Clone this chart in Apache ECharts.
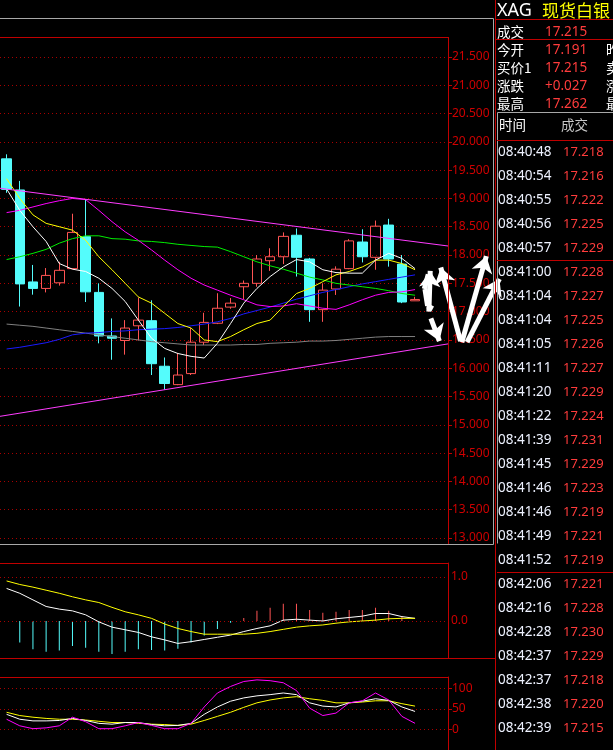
<!DOCTYPE html>
<html><head><meta charset="utf-8">
<script src="https://cdn.jsdelivr.net/npm/echarts@6/dist/echarts.min.js"></script>
<style>html,body{margin:0;padding:0;background:#000;overflow:hidden;}#c{width:613px;height:750px;}</style>
</head><body><div id="c"></div>
<script>
// ---------- data ----------
const categories = Array.from({length: 34}, (_, i) => 'K' + (i + 1));
// [open, close, low, high]
const candles = [
  [19.70, 19.16, 19.10, 19.78],
  [19.15, 17.49, 17.09, 19.31],
  [17.525, 17.41, 17.30, 17.825],
  [17.41, 17.64, 17.34, 17.77],
  [17.51, 17.73, 17.46, 17.88],
  [17.76, 18.40, 17.75, 18.73],
  [18.325, 17.35, 17.17, 18.99],
  [17.34, 16.57, 16.44, 17.50],
  [16.57, 16.53, 16.15, 16.88],
  [16.49, 16.71, 16.24, 16.85],
  [16.75, 16.85, 16.49, 17.25],
  [16.84, 16.08, 15.88, 17.20],
  [16.035, 15.73, 15.62, 16.19],
  [15.71, 15.88, 15.70, 16.27],
  [15.905, 16.46, 15.88, 16.71],
  [16.46, 16.81, 16.41, 16.98],
  [16.795, 17.06, 16.78, 17.325],
  [17.08, 17.15, 17.05, 17.24],
  [17.44, 17.50, 17.22, 17.55],
  [17.50, 17.93, 17.44, 18.00],
  [17.90, 17.97, 17.72, 18.12],
  [17.97, 18.33, 17.84, 18.40],
  [18.35, 17.96, 17.62, 18.47],
  [17.93, 17.035, 16.82, 17.95],
  [17.035, 17.38, 16.82, 17.50],
  [17.40, 17.75, 17.295, 17.80],
  [17.76, 18.25, 17.75, 18.28],
  [18.23, 17.97, 17.87, 18.455],
  [17.96, 18.51, 17.74, 18.61],
  [18.53, 17.93, 17.795, 18.64],
  [17.84, 17.17, 17.15, 18.00],
  [17.191, 17.215, 17.19, 17.262]
];
const ma5 = [19.17,18.79,18.50,18.24,17.85,17.75,17.71,17.59,17.41,17.18,16.85,16.53,16.35,16.26,16.21,16.18,16.44,16.79,17.15,17.41,17.62,17.79,17.92,17.88,17.74,17.69,17.68,17.68,17.91,18.03,17.94,17.76];
const ma10 = [19.35,19.00,18.71,18.56,18.50,18.44,18.26,17.97,17.74,17.50,17.26,17.15,16.97,16.79,16.71,16.50,16.47,16.56,16.68,16.79,16.85,17.09,17.32,17.41,17.53,17.65,17.71,17.79,17.91,17.91,17.85,17.74];
const ma20 = [18.75,18.79,18.85,18.91,18.96,19.00,18.98,18.79,18.59,18.41,18.26,18.09,17.91,17.74,17.59,17.47,17.38,17.29,17.21,17.12,17.09,17.10,17.14,17.10,17.06,17.04,17.12,17.21,17.29,17.34,17.35,17.39];
const ma30 = [17.92,17.97,18.03,18.10,18.21,18.29,18.34,18.34,18.29,18.28,18.25,18.24,18.22,18.19,18.17,18.15,18.14,18.06,17.97,17.88,17.81,17.75,17.68,17.61,17.56,17.50,17.47,17.44,17.41,17.37,17.32,17.29];
const ma60 = [16.34,16.37,16.41,16.45,16.51,16.59,16.62,16.63,16.65,16.66,16.68,16.69,16.70,16.72,16.75,16.78,16.82,16.88,16.96,17.02,17.08,17.15,17.22,17.28,17.34,17.39,17.44,17.49,17.53,17.57,17.61,17.65];
const ma120 = [16.78,16.76,16.74,16.71,16.68,16.65,16.62,16.59,16.56,16.53,16.50,16.47,16.45,16.43,16.41,16.41,16.41,16.41,16.42,16.42,16.44,16.45,16.46,16.48,16.48,16.49,16.51,16.53,16.55,16.56,16.56,16.56];
const trendUpper = [[-0.5, 19.18], [33.5, 18.16]];
const trendLower = [[-0.5, 15.15], [33.5, 16.43]];
// hand-drawn annotations, in (bar index, price): arrows and plain strokes
const arrowStrokes = [
  [[32.05, 17.00], [32.15, 17.72]],
  [[32.20, 16.88], [32.85, 16.48]],
  [[34.45, 16.48], [32.95, 17.78]],
  [[34.55, 16.46], [36.41, 17.98]],
  [[34.95, 16.46], [37.40, 17.58]]
];
const plainStrokes = [
  [[31.70, 17.40], [32.00, 17.66]],
  [[31.75, 17.40], [31.95, 17.10]],
  [[31.95, 17.10], [32.35, 17.05]]
];
const macdHist = [null,-0.49,-0.64,-0.70,-0.67,-0.57,-0.61,-0.70,-0.75,-0.70,-0.64,-0.66,-0.67,-0.63,-0.49,-0.33,-0.18,-0.04,0.07,0.23,0.30,0.39,0.39,0.25,0.19,0.21,0.25,0.25,0.30,0.23,0.11,null];
const dif = [0.74,0.63,0.48,0.33,0.27,0.23,0.14,-0.02,-0.14,-0.20,-0.26,-0.36,-0.43,-0.51,-0.47,-0.42,-0.37,-0.32,-0.24,-0.17,-0.11,0.02,0.04,0.02,0.00,0.05,0.08,0.11,0.17,0.17,0.10,0.06];
const dea = [0.91,0.83,0.77,0.70,0.63,0.55,0.48,0.42,0.31,0.21,0.14,0.06,-0.07,-0.17,-0.24,-0.30,-0.30,-0.30,-0.30,-0.28,-0.24,-0.19,-0.14,-0.11,-0.09,-0.05,-0.02,0.00,0.02,0.05,0.06,0.06];
const kdjK = [37,25,21,21,22,27,22,15,13,17,17,12,9,10,15,37,55,69,77,82,85,89,85,65,57,55,65,69,75,71,55,44];
const kdjD = [42,34,30,27,25,25,23,20,17,17,15,13,12,10,13,22,32,42,54,65,72,77,80,75,71,65,65,67,70,70,63,57];
const kdjJ = [25,9,2,4,9,30,19,2,2,9,17,10,2,2,15,55,89,105,117,121,119,114,95,52,34,40,65,70,89,72,32,15];
const macdMarks = [0, 1];
const headerCode = 'XAG';
const headerName = '现货白银';
const quoteLabels = ['成交', '今开', '买价1', '涨跌', '最高'];
const quoteValues = ['17.215', '17.191', '17.215', '+0.027', '17.262'];
const quoteLabels2 = ['昨收', '卖价1', '涨幅', '最低'];
const tickTimes = ['08:40:48','08:40:54','08:40:55','08:40:56','08:40:57','08:41:00','08:41:04','08:41:04','08:41:05','08:41:11','08:41:20','08:41:22','08:41:39','08:41:45','08:41:46','08:41:46','08:41:49','08:41:52','08:42:06','08:42:16','08:42:28','08:42:37','08:42:37','08:42:38','08:42:39'];
const tickPrices = ['17.218','17.216','17.222','17.225','17.229','17.228','17.227','17.225','17.226','17.227','17.229','17.224','17.231','17.229','17.223','17.219','17.221','17.219','17.221','17.228','17.230','17.229','17.218','17.220','17.215'];

// ---------- style ----------
const UP = '#ff5454', DOWN = '#54fcfc';
const RED = '#c00000', DOT = '#a80000', LBL = '#d00000';
const FONT = "'Noto Sans', 'Noto Sans CJK SC', sans-serif";
const CJK = "'Noto Sans CJK SC', 'Noto Sans', sans-serif";

const pad = a => a.concat(['-', '-']);
const lineS = (data, color, xi, yi, extra) => Object.assign({
  type: 'line', data: pad(data.map(v => v == null ? '-' : v)), xAxisIndex: xi, yAxisIndex: yi,
  symbol: 'none', lineStyle: {color: color, width: 1}, itemStyle: {color: color}, z: 3, silent: true
}, extra || {});

// graphic elements (frames + quote panel)
const g = [];
const hline = (x1, x2, y, c, w) => g.push({type: 'line', shape: {x1: x1, y1: y, x2: x2, y2: y}, style: {stroke: c, lineWidth: w || 1}, z: 50});
const vline = (x, y1, y2, c, w) => g.push({type: 'line', shape: {x1: x, y1: y1, x2: x, y2: y2}, style: {stroke: c, lineWidth: w || 1}, z: 50});
const text = (t, x, y, c, size, fam) => g.push({type: 'text', x: x, y: y, style: {text: t, fill: c, font: size + 'px ' + (fam || FONT), verticalAlign: 'middle', textAlign: 'left'}, z: 60});

// main frame (gray) and panel borders (red)
hline(0, 493.5, 18.5, '#a8a8a8');
vline(493.5, 18.5, 544.5, '#a8a8a8');
hline(0, 493.5, 544.5, '#a8a8a8');
hline(0, 448, 37.5, RED);
vline(448.5, 37, 544, RED);
hline(0, 448, 563.5, RED);
hline(0, 496, 658.5, RED);
hline(0, 448, 677.5, RED);
vline(495.5, 0, 750, RED);
// quote panel
hline(496, 613, 19.5, RED);
hline(496, 613, 39.5, RED);
text(headerCode, 497, 11, '#ffffff', 18);
text(headerName, 542, 11, '#ffff00', 17, CJK);
quoteLabels.forEach((t, i) => {
  const y = 32 + 18 * i;
  text(t, 497, y, '#ffffff', 13.5, CJK);
  text(quoteValues[i], 545, y, '#ff3c3c', 13.5);
  if (i > 0) text(quoteLabels2[i - 1], 606, y, '#ffffff', 13.5, CJK);
});
// tick list
hline(497.5, 613, 112.5, '#a8a8a8');
vline(497.5, 112.5, 543.5, '#a8a8a8');
text('时间', 499, 125, '#ffffff', 13.5, CJK);
text('成交', 561, 125, '#c8c8c8', 13.5, CJK);
hline(497, 613, 140.5, RED);
tickTimes.forEach((t, k) => {
  const y = 152 + 24 * k;
  text(t, 498, y, '#eef2ff', 13.5);
  text(tickPrices[k], 563, y, '#ff3c3c', 13);
  if (k > 0 && t.slice(0, 5) !== tickTimes[k - 1].slice(0, 5)) hline(497, 613, y - 11.5, RED);
});

const option = {
  backgroundColor: '#000000',
  animation: false,
  grid: [
    {left: -8, top: 37, width: 456, height: 501},
    {left: -8, top: 563, width: 456, height: 95},
    {left: -8, top: 677, width: 456, height: 89}
  ],
  xAxis: [
    {type: 'category', gridIndex: 0, data: categories, show: false},
    {type: 'value', gridIndex: 0, min: -0.5, max: 33.5, show: false},
    {type: 'category', gridIndex: 1, data: categories, show: false},
    {type: 'category', gridIndex: 2, data: categories, show: false}
  ],
  yAxis: [
    {type: 'value', gridIndex: 0, position: 'right', min: 13, max: 21.853, interval: 0.5,
     axisLine: {show: false, onZero: false},
     axisTick: {show: true, length: 4, lineStyle: {color: RED}},
     axisLabel: {color: LBL, fontSize: 12, fontFamily: FONT, margin: 4, showMaxLabel: false,
                 formatter: v => v.toFixed(3)},
     splitLine: {show: true, lineStyle: {color: DOT, type: [1, 3]}}},
    {type: 'value', gridIndex: 1, position: 'right', min: -0.841, max: 1.318,
     axisLine: {show: true, onZero: false, lineStyle: {color: RED}}, axisTick: {show: false},
     axisLabel: {show: false}, splitLine: {show: false}},
    {type: 'value', gridIndex: 2, position: 'right', min: -50, max: 128, interval: 50,
     axisLine: {show: true, onZero: false, lineStyle: {color: RED}},
     axisTick: {show: true, length: 4, lineStyle: {color: RED}},
     axisLabel: {color: LBL, fontSize: 12, fontFamily: FONT, margin: 4, showMaxLabel: false,
                 formatter: v => (v < 0 || v > 100) ? '' : String(v)},
     splitLine: {show: true, lineStyle: {color: DOT, type: [1, 3]}}}
  ],
  series: [
    {type: 'candlestick', xAxisIndex: 0, yAxisIndex: 0, data: pad(candles), barWidth: 10, silent: true,
     itemStyle: {color: 'transparent', color0: DOWN, borderColor: UP, borderColor0: DOWN, borderWidth: 1}, z: 2},
    lineS(ma120, '#808080', 0, 0),
    lineS(ma60, '#1a1aff', 0, 0),
    lineS(ma30, '#00ee00', 0, 0),
    lineS(ma20, '#ff00ff', 0, 0),
    lineS(ma10, '#ffff00', 0, 0),
    lineS(ma5, '#ffffff', 0, 0),
    {type: 'line', xAxisIndex: 1, yAxisIndex: 0, data: trendUpper, symbol: 'none', silent: true,
     lineStyle: {color: '#ff3cff', width: 1}, z: 3},
    {type: 'line', xAxisIndex: 1, yAxisIndex: 0, data: trendLower, symbol: 'none', silent: true,
     lineStyle: {color: '#ff3cff', width: 1}, z: 3},
    {type: 'lines', coordinateSystem: 'cartesian2d', xAxisIndex: 1, yAxisIndex: 0, clip: false, silent: true,
     symbol: ['none', 'arrow'], symbolSize: 16, z: 20,
     lineStyle: {color: '#ffffff', width: 5, opacity: 1, curveness: 0},
     data: arrowStrokes.map(c => ({coords: c}))},
    {type: 'lines', coordinateSystem: 'cartesian2d', xAxisIndex: 1, yAxisIndex: 0, clip: false, silent: true,
     symbol: 'none', z: 20,
     lineStyle: {color: '#ffffff', width: 5, opacity: 1, curveness: 0},
     data: plainStrokes.map(c => ({coords: c}))},
    {type: 'bar', xAxisIndex: 2, yAxisIndex: 1, barWidth: 1, silent: true,
     data: pad(macdHist.map(v => v == null ? '-' : {value: v, itemStyle: {color: v >= 0 ? UP : DOWN}}))},
    lineS(dif, '#ffffff', 2, 1, {
      markLine: {silent: true, symbol: 'none', lineStyle: {color: DOT, type: [1, 3], width: 1},
        label: {position: 'end', color: LBL, fontSize: 12, fontFamily: FONT, distance: 3,
                formatter: p => Number(p.value).toFixed(1)},
        data: macdMarks.map(v => ({yAxis: v}))}
    }),
    lineS(dea, '#ffff00', 2, 1),
    lineS(kdjD, '#ffff00', 3, 2),
    lineS(kdjK, '#ffffff', 3, 2),
    lineS(kdjJ, '#ff00ff', 3, 2)
  ],
  graphic: g
};
const chart = echarts.init(document.getElementById('c'), null, {renderer: 'canvas'});
chart.setOption(option);
</script></body></html>
